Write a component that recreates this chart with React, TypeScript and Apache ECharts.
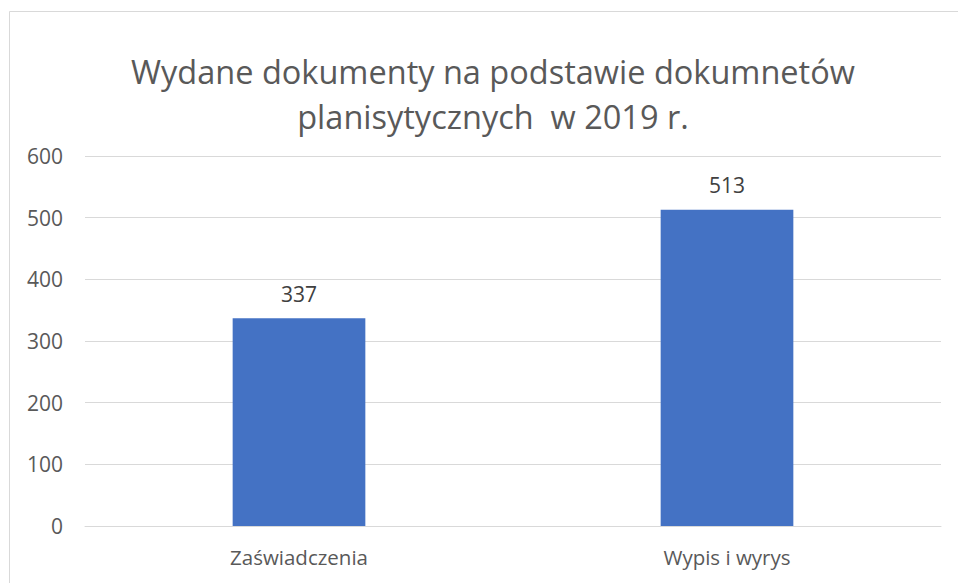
import React, { useEffect, useRef } from "react";
import * as echarts from "echarts";

const categories = ["Zaświadczenia", "Wypis i wyrys"];
const values = [337, 513];
const yTicks = { min: 0, max: 600, interval: 100 };
const titleText = "Wydane dokumenty na podstawie dokumnetów\nplanisytycznych  w 2019 r.";

export default function App() {
  const ref = useRef<HTMLDivElement>(null);
  useEffect(() => {
    if (!ref.current) return;
    const chart = echarts.init(ref.current, null, { renderer: "svg" });
    const font = "'Open Sans', 'Noto Sans', sans-serif";
    chart.setOption({
      animation: false,
      backgroundColor: "#ffffff",
      textStyle: { fontFamily: font },
      title: {
        text: titleText,
        left: 488,
        top: 44,
        textAlign: "center",
        textStyle: {
          fontFamily: font,
          fontSize: 32.5,
          fontWeight: "normal",
          color: "#595959",
          lineHeight: 45,
        },
      },
      graphic: [
        {
          type: "rect",
          shape: { x: 9.5, y: 11.5, width: 1200, height: 1000 },
          style: { fill: "none", stroke: "#d9d9d9", lineWidth: 1 },
          silent: true,
          z: -1,
        },
      ],
      grid: { left: 85, right: 17, top: 156, bottom: 57 },
      xAxis: {
        type: "category",
        data: categories,
        axisLine: { show: true, lineStyle: { color: "#d9d9d9", width: 1 } },
        axisTick: { show: false },
        axisLabel: { color: "#595959", fontSize: 20.5, margin: 20, fontFamily: font },
      },
      yAxis: {
        type: "value",
        min: yTicks.min,
        max: yTicks.max,
        interval: yTicks.interval,
        axisLine: { show: false },
        axisTick: { show: false },
        splitLine: { lineStyle: { color: "#d9d9d9", width: 1 } },
        axisLabel: { color: "#595959", fontSize: 21, margin: 22, fontFamily: font },
      },
      series: [
        {
          type: "bar",
          data: values,
          barWidth: "31%",
          itemStyle: { color: "#4472C4" },
          label: {
            show: true,
            position: "top",
            distance: 14,
            color: "#404040",
            fontSize: 21,
            fontFamily: font,
          },
        },
      ],
    });
    return () => chart.dispose();
  }, []);
  return (
    <div
      ref={ref}
      style={{ position: "absolute", left: 0, top: 0, width: 958, height: 583 }}
    />
  );
}
